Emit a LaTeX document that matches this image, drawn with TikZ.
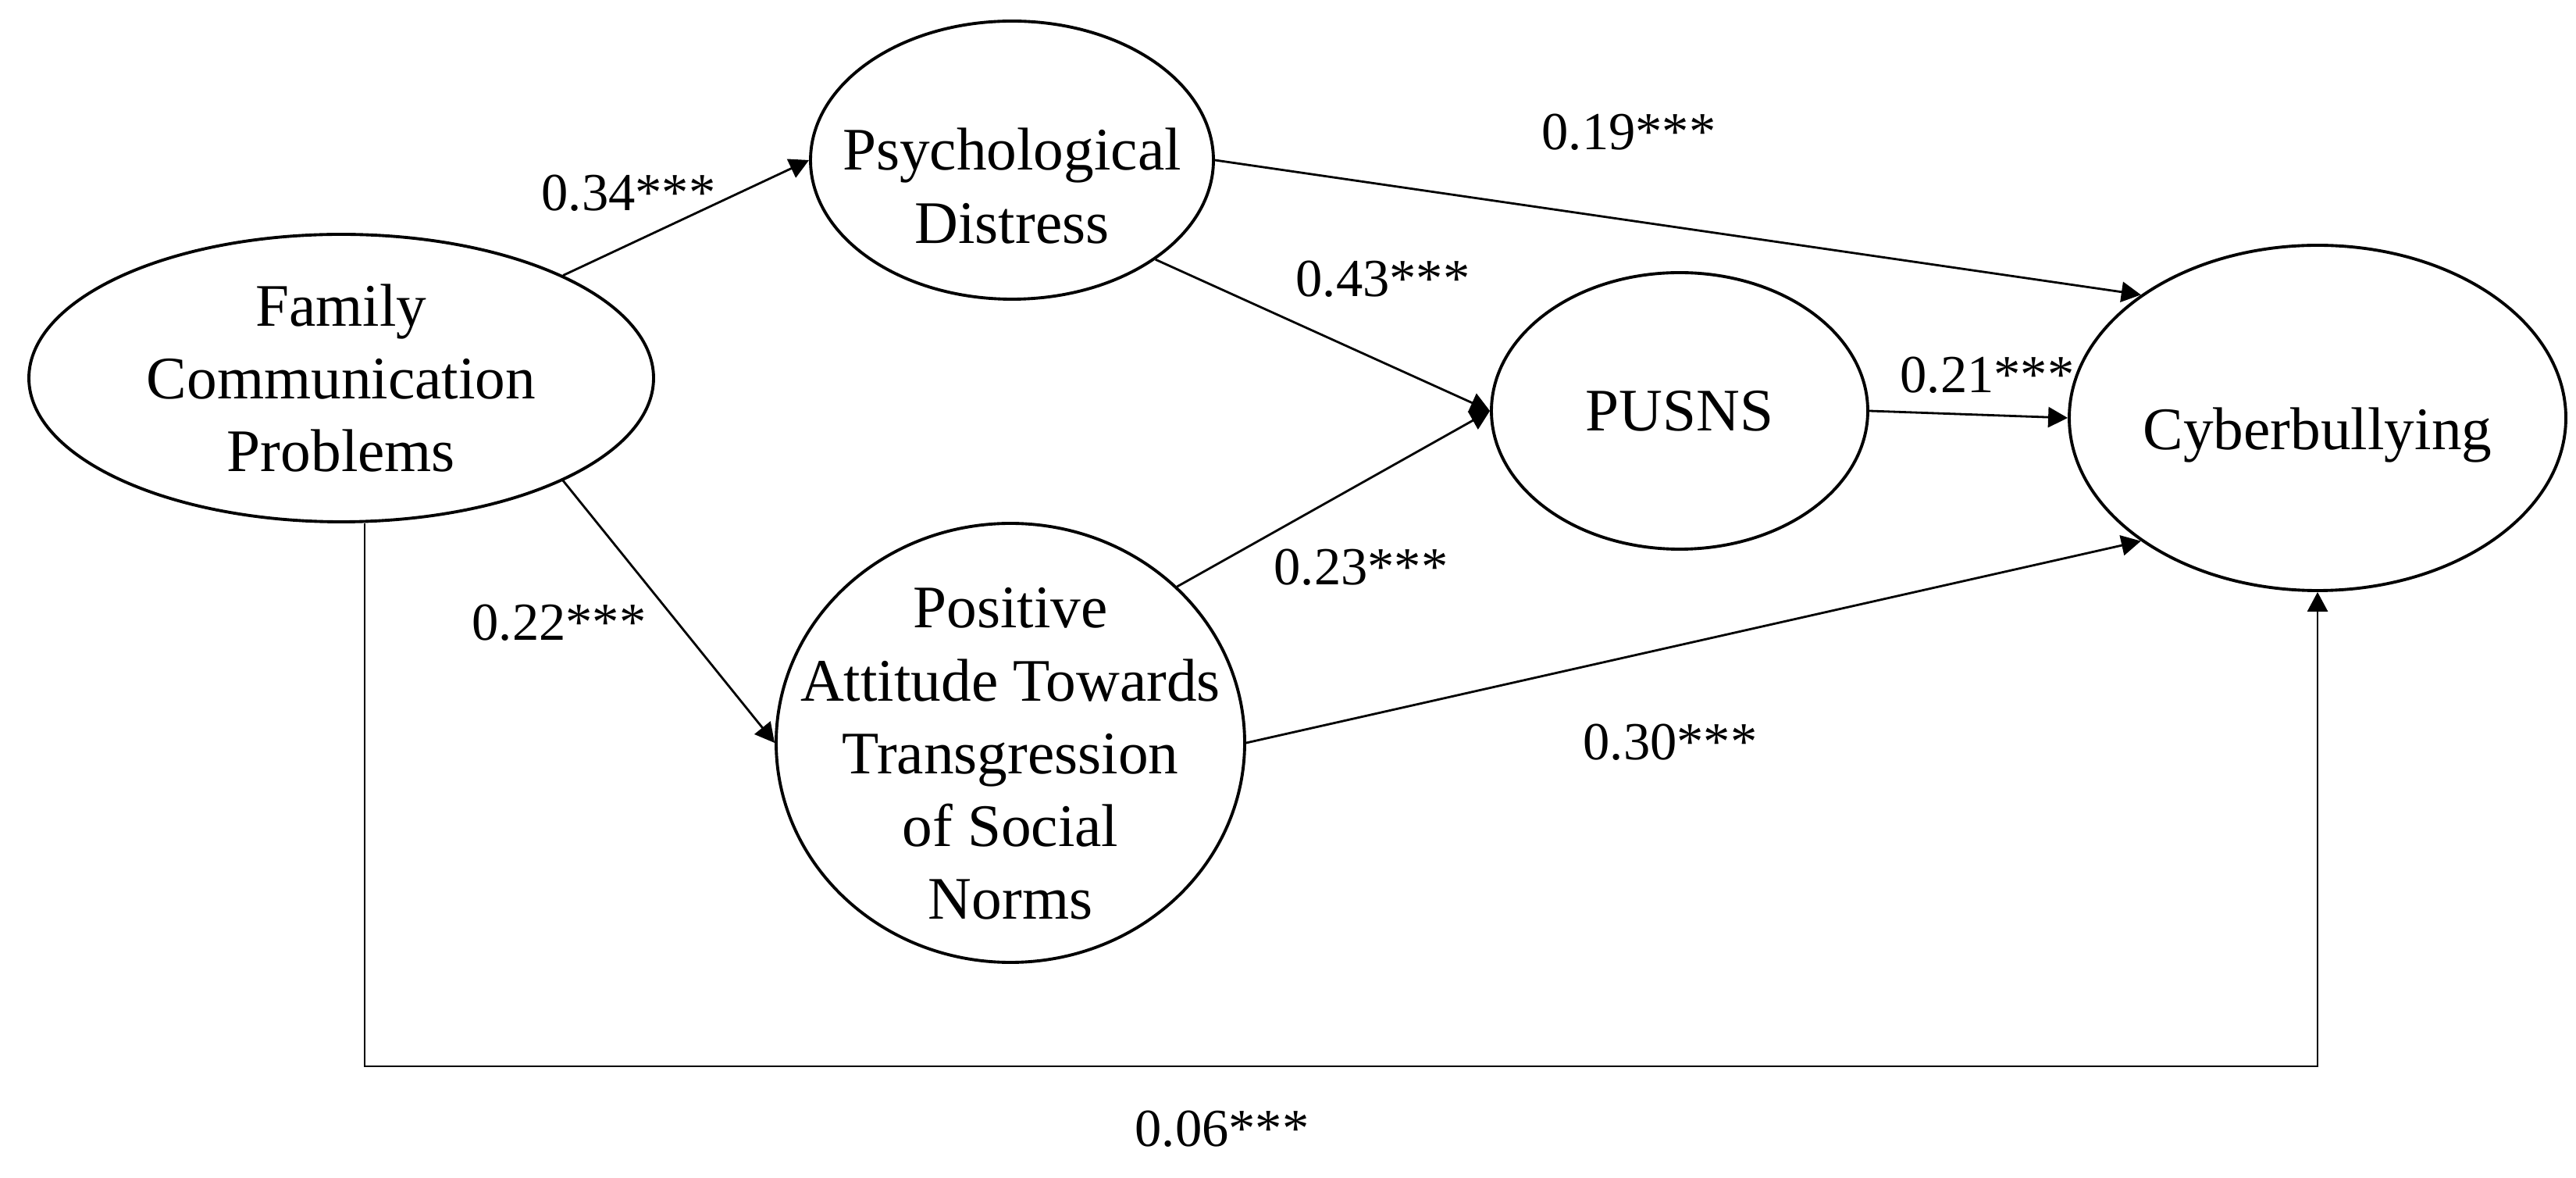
\documentclass[tikz,border=0pt]{standalone}
\usepackage{fontspec}
\setmainfont{Liberation Serif}
\usetikzlibrary{arrows.meta,shapes.geometric}

\tikzset{
  var/.style={ellipse, draw, line width=1.1pt, inner sep=0pt},
  vtext/.style={align=center, inner sep=0pt, font=\fontsize{22}{26.5}\selectfont},
  coef/.style={inner sep=0pt, font=\fontsize{19.5}{23}\selectfont},
  link/.style={-{Triangle[length=2.5mm,width=2.6mm]}, line width=0.8pt},
}

\begin{document}
\begin{tikzpicture}
    \useasboundingbox (0,0) rectangle (32.99,-15.08);
    % latent variables
    \node[var, minimum width=8cm, minimum height=3.68cm] (fam) at (4.37,-4.84) {};
    \node[var, minimum width=5.16cm, minimum height=3.56cm] (psy) at (12.96,-2.05) {};
    \node[var, minimum width=6cm, minimum height=5.62cm] (pos) at (12.94,-9.51) {};
    \node[var, minimum width=4.82cm, minimum height=3.54cm] (pus) at (21.51,-5.26) {};
    \node[var, minimum width=6.36cm, minimum height=4.42cm] (cyb) at (29.68,-5.35) {};
    \node[vtext] (famtext) at (fam) {Family\\Communication\\Problems};
    \node[vtext, yshift=-3.3mm] (psytext) at (psy) {Psychological\\Distress};
    \node[vtext, yshift=-1.4mm] (postext) at (pos) {Positive\\Attitude Towards\\Transgression\\of Social\\Norms};
    \node[vtext] (pustext) at (pus) {PUSNS};
    \node[vtext, yshift=-2.2mm] (cybtext) at (cyb) {Cyberbullying};
    % paths
    \draw[link] (fam.north east) -- (psy.west);
    \draw[link] (fam.south east) -- (pos.west);
    \draw[link] (psy.south east) -- (pus.west);
    \draw[link] (psy.east) -- (cyb.north west);
    \draw[link] (pos.north east) -- (pus.west);
    \draw[link] (pos.east) -- (cyb.south west);
    \draw[link] (pus.east) -- (cyb.west);
    \draw[link] ([xshift=3mm]fam.south) |- ([yshift=-6.07cm]cyb.south) -- (cyb.south);
    % coefficients
    \node[coef] (c34) at (8.05,-2.47) {0.34***};
    \node[coef] (c19) at (20.86,-1.69) {0.19***};
    \node[coef] (c43) at (17.71,-3.57) {0.43***};
    \node[coef] (c21) at (25.45,-4.80) {0.21***};
    \node[coef] (c23) at (17.43,-7.26) {0.23***};
    \node[coef] (c22) at (7.16,-7.97) {0.22***};
    \node[coef] (c30) at (21.39,-9.50) {0.30***};
    \node[coef] (c06) at (15.65,-14.45) {0.06***};
\end{tikzpicture}
\end{document}
